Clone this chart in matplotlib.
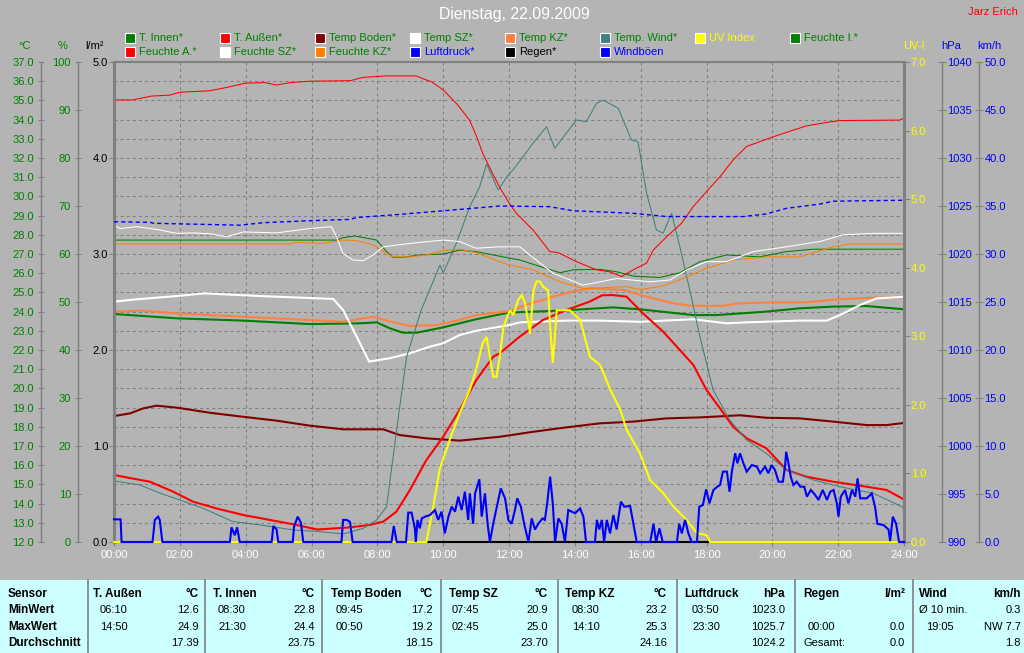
import numpy as np
import matplotlib.pyplot as plt
from matplotlib.patches import Rectangle
from matplotlib.ticker import MultipleLocator, FormatStrFormatter

plt.rcParams['font.family'] = ['Liberation Sans', 'DejaVu Sans']
plt.rcParams['lines.scale_dashes'] = False

# ---- data (hours, value) ----
t_feuchte_a = [0, 0.57, 1.14, 1.7, 2.0, 2.9, 3.42, 4.0, 4.58, 4.94, 5.34, 5.95, 7.17, 7.57, 8.28, 9.19, 9.39, 9.64,
               10.0, 10.45, 10.8, 11.02, 11.2, 11.52, 11.75, 11.97, 12.22, 12.73, 13.24, 13.49, 14.05, 14.66, 15.06,
               15.42, 15.77, 16.18, 16.38, 16.79, 17.24, 17.6, 18.0, 18.41, 18.81, 19.22, 19.62, 20.02, 20.63,
               21.04, 21.65, 22.05, 23.87, 24.0]
feuchte_a = [92.1, 92.1, 92.9, 93.1, 93.7, 94.0, 94.7, 95.6, 95.7, 95.2, 95.7, 96.0, 96.1, 96.8, 97.1, 97.1, 96.5, 95.9,
             94.2, 91.0, 87.9, 84.4, 81.0, 76.5, 73.5, 71.0, 68.5, 65.0, 60.5, 60.3, 58.4, 56.7, 56.3,
             55.3, 56.7, 58.1, 60.8, 63.6, 66.4, 69.9, 73.0, 76.1, 79.6, 82.4, 83.4, 84.4, 85.8,
             86.7, 87.4, 87.8, 87.9, 88.3]

t_aussen = [0, 0.58, 1.09, 1.8, 2.4, 3.11, 3.92, 4.73, 5.54, 6.17, 7.16, 7.77, 8.18, 8.58, 8.99, 9.49, 10.0, 10.5,
            11.01, 11.52, 11.72, 12.02, 12.33, 13.03, 13.74, 14.45, 14.83, 15.16, 15.57, 16.07, 16.68, 17.19, 17.6,
            18.0, 18.41, 18.81, 19.22, 19.82, 20.43, 21.04, 21.85, 22.86, 23.47, 23.93, 24.0]
aussen = [15.49, 15.3, 15.14, 14.62, 14.1, 13.75, 13.41, 13.15, 12.89, 12.65, 12.76, 12.89, 13.06, 13.58, 14.71, 16.27,
          17.48, 18.88, 20.44, 21.65, 21.83, 22.26, 22.7, 23.56, 24.08, 24.52, 24.85, 24.86, 24.78, 23.91, 22.96,
          22.0, 21.22, 19.92, 18.96, 18.0, 17.4, 16.88, 15.75, 15.4, 15.14, 14.88, 14.71, 14.28, 14.2]

t_wind_temp = [0, 0.79, 1.4, 2.0, 2.71, 3.62, 4.43, 5.44, 6.25, 6.96, 7.57, 7.98, 8.28, 8.48, 8.68, 8.89, 9.34, 9.59,
               9.9, 10.0, 10.4, 10.81, 11.11, 11.32, 11.67, 11.97, 12.12, 12.43, 12.73, 13.14, 13.39, 13.74, 14.05,
               14.35, 14.66, 14.86, 15.32, 15.72, 15.92, 16.18, 16.48, 16.68, 16.94, 17.19, 17.49, 17.8, 18.2,
               18.71, 19.22, 19.82, 20.43, 21.24, 22.05, 23.06, 23.93, 24.0]
wind_temp = [15.18, 14.97, 14.54, 14.19, 13.75, 13.06, 12.89, 12.63, 12.54, 12.42, 12.71, 13.15, 13.84, 16.44, 19.05,
             21.65, 24.12, 25.13, 26.43, 26.0, 27.56, 29.47, 30.51, 31.69, 30.33, 31.11, 31.38, 32.07, 32.77, 33.63,
             32.5, 33.29, 33.98, 33.89, 34.85, 35.02, 34.59, 32.94, 32.85, 30.16, 28.25, 28.08, 29.12, 27.38, 25.13,
             22.7, 19.92, 18.35, 17.31, 16.61, 15.75, 15.23, 14.88, 14.54, 13.84, 13.7]

t_druck = [0, 1.1, 1.2, 3.82, 4.53, 5.95, 7.17, 7.37, 8.58, 10.0, 11.72, 13.24, 13.95, 15.77, 16.79, 19.12, 19.82,
           20.43, 21.44, 21.85, 24.0]
druck = [1023.36, 1023.3, 1023.2, 1023.0, 1023.26, 1023.47, 1023.6, 1023.8, 1024.1, 1024.5, 1025.0, 1024.93, 1024.5,
         1024.24, 1023.9, 1023.9, 1024.17, 1024.76, 1025.2, 1025.5, 1025.6]

t_feuchte_sz = [0, 0.18, 0.69, 1.4, 1.9, 2.41, 2.92, 3.42, 3.93, 4.94, 5.95, 6.6, 6.76, 6.96, 7.26, 7.57, 7.87, 8.18,
                8.99, 10.0, 10.5, 11.0, 11.72, 12.33, 12.94, 13.34, 13.74, 14.25, 14.76, 15.27, 16.28, 16.89, 17.4,
                18.0, 18.61, 19.42, 20.43, 21.44, 22.15, 23.06, 24.0]
feuchte_sz = [66.0, 65.3, 65.7, 65.0, 64.3, 64.4, 64.2, 63.6, 64.6, 64.4, 65.3, 65.7, 63.6, 60.1, 58.75, 58.6, 59.8,
              61.5, 62.2, 62.9, 62.6, 61.2, 61.5, 61.5, 58.1, 56.0, 54.9, 53.5, 54.2, 54.9, 54.2, 54.6, 56.7,
              58.4, 58.4, 60.5, 61.5, 62.6, 64.0, 64.3, 64.3]

t_feuchte_i = [0, 6.76, 6.96, 7.32, 7.68, 7.98, 8.28, 8.48, 8.78, 9.29, 10.0, 10.5, 11.0, 11.52, 11.97, 12.33, 12.94,
               13.55, 13.95, 14.76, 15.27, 15.77, 16.58, 17.19, 17.8, 18.61, 19.62, 20.43, 21.24, 24.0]
feuchte_i = [62.9, 62.9, 63.4, 63.75, 63.3, 62.9, 60.5, 59.3, 59.3, 59.8, 60.0, 60.8, 60.5, 59.8, 59.2, 58.75, 57.4,
             56.1, 56.7, 56.8, 56.3, 55.4, 55.1, 56.1, 58.4, 59.8, 59.4, 60.5, 61.0, 61.0]

t_feuchte_kz = [0, 5.34, 5.54, 6.35, 6.96, 7.37, 7.87, 8.28, 8.48, 8.99, 9.49, 10.0, 10.5, 11.0, 11.52, 11.97, 12.73,
                13.55, 14.25, 15.57, 15.98, 16.58, 17.19, 18.0, 18.81, 19.82, 20.83, 21.85, 22.35, 24.0]
feuchte_kz = [62.1, 62.1, 62.4, 62.2, 62.9, 62.8, 61.9, 60.1, 59.4, 59.4, 59.8, 60.7, 61.0, 60.3, 58.9, 57.8, 56.7,
              54.2, 52.8, 53.2, 52.6, 53.2, 54.6, 57.0, 58.75, 59.4, 59.4, 61.5, 62.1, 62.1]

t_sz = [0, 0.69, 1.9, 2.75, 3.11, 4.43, 6.66, 6.96, 7.37, 7.75, 8.38, 8.99, 9.59, 10.0, 10.5, 11.0, 12.02, 12.33,
        13.74, 14.76, 15.97, 17.6, 18.61, 19.22, 20.83, 21.65, 22.05, 22.66, 23.17, 24.0]
temp_sz = [24.52, 24.64, 24.81, 24.95, 24.92, 24.81, 24.66, 24.08, 22.7, 21.4, 21.57, 21.83, 22.17, 22.35, 22.78, 23.0,
           23.3, 23.44, 23.53, 23.53, 23.47, 23.6, 23.39, 23.44, 23.53, 23.53, 23.82, 24.34, 24.69, 24.77]

t_kz = [0, 0.89, 1.9, 3.93, 5.95, 6.96, 7.87, 8.28, 8.99, 9.8, 10.5, 11.0, 12.0, 12.5, 13.0, 13.5, 14.0, 14.5, 15.0,
        15.5, 16.0, 16.5, 17.0, 17.5, 18.0, 18.5, 19.0, 20.0, 21.0, 22.0, 23.0, 24.0]
temp_kz = [24.0, 24.05, 23.91, 23.73, 23.56, 23.47, 23.73, 23.53, 23.25, 23.3, 23.56, 23.82, 24.02, 24.34, 24.6, 24.86,
           25.07, 25.21, 25.16, 25.13, 24.86, 24.64, 24.43, 24.31, 24.3, 24.3, 24.43, 24.48, 24.48, 24.64, 24.72,
           24.75]

t_innen = [0, 0.89, 1.9, 3.93, 5.95, 7.47, 7.98, 8.38, 8.78, 9.19, 10.0, 11.0, 12.0, 13.55, 15.16, 15.97, 17.6, 18.31,
           19.82, 20.83, 21.85, 22.86, 24.0]
innen = [23.875, 23.77, 23.65, 23.53, 23.35, 23.39, 23.44, 23.13, 22.9, 22.9, 23.18, 23.6, 23.95, 24.05, 24.22, 24.12,
         23.82, 23.82, 24.0, 24.17, 24.26, 24.29, 24.12]

t_boden = [0, 0.49, 0.89, 1.29, 1.9, 2.92, 3.93, 4.94, 5.95, 6.96, 8.18, 8.68, 9.49, 10.5, 11.72, 12.73, 13.74, 14.76,
           15.77, 16.79, 17.8, 19.02, 19.82, 20.83, 21.85, 22.86, 23.47, 24.0]
boden = [18.56, 18.7, 18.96, 19.1, 19.0, 18.73, 18.52, 18.32, 18.06, 17.87, 17.87, 17.57, 17.4, 17.28, 17.48, 17.74,
         17.97, 18.18, 18.27, 18.44, 18.49, 18.6, 18.47, 18.44, 18.27, 18.09, 18.09, 18.2]

t_uv = [0, 9.49, 9.7, 9.9, 10.2, 10.5, 10.81, 11.0, 11.2, 11.32, 11.42, 11.52, 11.62, 11.72, 11.83, 12.03, 12.13,
        12.28, 12.39, 12.49, 12.64, 12.74, 12.84, 12.94, 13.04, 13.19, 13.25, 13.33, 13.4, 13.45, 13.85, 14.16,
        14.46, 14.77, 15.08, 15.38, 15.58, 15.98, 16.29, 16.69, 16.99, 17.4, 17.71, 18.01, 18.11, 24.0]
uv = [0, 0, 0.52, 1.07, 1.49, 1.88, 2.22, 2.51, 2.9, 2.99, 2.7, 2.41, 2.41, 2.7, 3.14, 3.38, 3.31,
      3.53, 3.6, 3.48, 3.04, 3.67, 3.8, 3.8, 3.72, 3.67, 3.14, 2.61, 3.04, 3.38, 3.38, 3.24,
      2.7, 2.58, 2.22, 1.93, 1.63, 1.29, 0.9, 0.71, 0.52, 0.32, 0.13, 0.1, 0, 0]

t_boeen = [0.0, 0.2, 0.23, 1.17, 1.24, 1.34, 1.39, 1.47, 3.52, 3.57, 3.67, 3.74, 3.82, 4.79, 4.84, 4.94, 4.99, 5.43,
           5.47, 5.58, 5.68, 5.75, 6.91, 6.96, 7.07, 7.17, 7.25, 8.43, 8.5, 8.59, 8.87, 8.94, 9.04, 9.14, 9.17, 9.22,
           9.29, 9.35, 9.45, 9.6, 9.75, 9.85, 9.95, 10.05, 10.16, 10.26, 10.36, 10.46, 10.56, 10.66, 10.76, 10.81,
           10.91, 10.97, 11.1, 11.17, 11.27, 11.35, 11.42, 11.52, 11.63, 11.75, 11.88, 11.98, 12.08, 12.18, 12.25,
           12.36, 12.46, 12.59, 12.69, 12.79, 12.89, 13.02, 13.09, 13.16, 13.25, 13.33, 13.4, 13.5, 13.6, 13.7,
           13.8, 13.91, 14.01, 14.16, 14.26, 14.34, 14.61, 14.67, 14.74, 14.82, 14.89, 14.97, 15.07, 15.17, 15.27,
           15.4, 15.5, 15.68, 15.78, 15.88, 16.29, 16.39, 16.47, 16.57, 16.67, 17.1, 17.17, 17.25, 17.35, 17.45,
           17.55, 17.71, 17.78, 17.89, 17.99, 18.09, 18.21, 18.33, 18.41, 18.5, 18.62, 18.7, 18.77, 18.87, 18.94,
           19.02, 19.12, 19.22, 19.38, 19.53, 19.63, 19.78, 19.88, 19.98, 20.08, 20.19, 20.32, 20.39, 20.42, 20.49,
           20.56, 20.64, 20.74, 20.85, 20.97, 21.05, 21.17, 21.3, 21.4, 21.53, 21.66, 21.76, 21.86, 21.96, 22.01,
           22.08, 22.21, 22.31, 22.42, 22.52, 22.59, 22.67, 22.87, 23.02, 23.12, 23.19, 23.38, 23.53, 23.58, 23.66,
           23.76, 23.85, 24.0]
boeen = [2.36, 2.36, 0, 0, 2.3, 2.64, 2.3, 0, 0, 1.53, 0.7, 1.53, 0, 0, 1.67, 1.3, 0, 0,
         1.6, 2.64, 2.0, 0, 0, 2.3, 2.3, 2.1, 0, 0, 1.67, 0, 0, 3.06, 3.06, 1.42, 0, 2.3,
         1.42, 2.46, 2.64, 2.81, 3.33, 2.3, 3.16, 0.9, 2.64, 3.68, 3.16, 4.72, 3.33, 5.24, 2.3, 5.07,
         1.9, 5.07, 6.53, 2.64, 5.07, 1.9, 0, 1.9, 3.68, 5.59, 4.55, 2.3, 1.9, 3.33, 4.55,
         3.68, 1.9, 0, 2.46, 1.3, 1.9, 2.46, 2.3, 4.03, 6.8, 4.03, 0, 2.46, 1.9, 0,
         3.33, 3.16, 3.0, 3.5, 2.64, 0, 0, 2.3, 1.3, 2.3, 0, 2.3, 0.9, 2.81, 1.3,
         4.2, 3.68, 3.75, 1.9, 0, 0, 1.9, 0, 1.42, 0, 0, 1.9, 0.9, 2.3, 0.9,
         0, 0, 3.68, 3.85, 5.49, 4.03, 5.42, 5.76, 5.94, 7.33, 7.33, 5.24, 7.33, 9.24, 8.2,
         9.24, 8.2, 7.33, 8.02, 7.85, 7.16, 7.85, 7.16, 8.02, 7.5, 6.28, 6.28, 8.02, 9.4, 8.2,
         6.8, 5.94, 6.28, 5.76, 5.76, 4.72, 5.42, 4.9, 4.38, 5.42, 4.38, 5.24, 5.42, 4.03, 2.64,
         4.72, 5.42, 4.03, 5.42, 4.72, 6.63, 4.55, 4.55, 5.07, 3.68, 1.9, 1.76, 1.3, 0.1, 2.64,
         1.9, 0, 0]

t_regen = [0, 24]
regen = [0, 0]

x_labels = ['00:00', '02:00', '04:00', '06:00', '08:00', '10:00', '12:00', '14:00', '16:00', '18:00', '20:00',
            '22:00', '24:00']

legend_row1 = ['T. Innen*', 'T. Außen*', 'Temp Boden*', 'Temp SZ*', 'Temp KZ*', 'Temp. Wind*', 'UV Index', 'Feuchte I.*']
legend_row2 = ['Feuchte A.*', 'Feuchte SZ*', 'Feuchte KZ*', 'Luftdruck*', 'Regen*', 'Windböen']

sensors = ['T. Außen', 'T. Innen', 'Temp Boden', 'Temp SZ', 'Temp KZ', 'Luftdruck', 'Regen', 'Wind']
units = ['°C', '°C', '°C', '°C', '°C', 'hPa', 'l/m²', 'km/h']
min_time = ['06:10', '08:30', '09:45', '07:45', '08:30', '03:50', '', 'Ø 10 min.']
min_val = ['12.6', '22.8', '17.2', '20.9', '23.2', '1023.0', '', '0.3']
max_time = ['14:50', '21:30', '00:50', '02:45', '14:10', '23:30', '00:00', '19:05']
max_val = ['24.9', '24.4', '19.2', '25.0', '25.3', '1025.7', '0.0', 'NW 7.7']
avg_time = ['', '', '', '', '', '', 'Gesamt:', '']
avg_val = ['17.39', '23.75', '18.15', '23.70', '24.16', '1024.2', '0.0', '1.8']

# ---- styling ----
BG = '#b4b4b4'
GRID = '#808080'
GREEN = '#008000'
BLUE = '#0000ff'
YELLOW = '#ffff00'
RED = '#ff0000'
DARKRED = '#800000'
CORAL = '#ff8040'
ORANGE = '#ff8000'
TEAL = '#408080'
THICK = 1.5
THIN = 0.75

W, H = 1024, 653
L, R, T, B = 114, 904, 62, 542
PW = R - L

fig = plt.figure(figsize=(W / 100, H / 100), dpi=100)
fig.patch.set_facecolor(BG)
rect = [L / W, 1 - B / H, PW / W, (B - T) / H]


def setup(a, lim, step, side, xpx, color, fmt, length, direction, pad, lw=1.0):
    for s in a.spines.values():
        s.set_visible(False)
    sp = a.spines[side]
    sp.set_visible(True)
    sp.set_position(('axes', (xpx - L) / PW))
    sp.set_color(GRID)
    sp.set_linewidth(lw)
    a.yaxis.set_ticks_position(side)
    a.set_ylim(*lim)
    a.yaxis.set_major_locator(MultipleLocator(step))
    a.yaxis.set_major_formatter(FormatStrFormatter(fmt))
    a.tick_params(axis='y', direction=direction, length=length, width=0.75, color=GRID,
                  labelcolor=color, labelsize=8, pad=pad)


def twin():
    a = fig.add_axes(rect, sharex=ax, facecolor='none')
    a.tick_params(axis='x', bottom=False, labelbottom=False)
    return a


ax = fig.add_axes(rect, facecolor=BG)
ax.set_xlim(0, 24)
setup(ax, (12, 37), 1, 'left', 41, GREEN, '%.1f', 5, 'inout', 2.5)
ax.spines['top'].set_visible(True)
ax.spines['top'].set_color(GRID)
ax.spines['top'].set_linewidth(1.5)
ax.set_xticks(np.arange(0, 25, 2))
ax.set_xticklabels(x_labels)
ax.tick_params(axis='x', direction='out', length=3, color=GRID, labelcolor='white', labelsize=8, pad=3)
ax.grid(True, color=GRID, linewidth=0.75, linestyle=(0, (2.2, 2.2)))
ax.set_axisbelow(True)

ax_h = twin()
setup(ax_h, (0, 100), 10, 'left', 77.7, GREEN, '%d', 5, 'inout', 2.3)
ax_r = twin()
setup(ax_r, (0, 5), 1, 'left', 114, 'black', '%.1f', 3.5, 'out', 0.8, lw=2.2)
ax_uv = twin()
setup(ax_uv, (0, 7), 1, 'right', 904, YELLOW, '%.1f', 4, 'out', 0.8, lw=2.2)
ax_p = twin()
setup(ax_p, (990, 1040), 5, 'right', 941.7, BLUE, '%d', 6, 'inout', 1.0)
ax_w = twin()
setup(ax_w, (0, 50), 5, 'right', 978.7, BLUE, '%.1f', 6, 'inout', 1.0)

kw = dict(clip_on=False, solid_joinstyle='miter')
ax.plot(t_boden, boden, color=DARKRED, lw=THICK, **kw)
ax.plot(t_innen, innen, color=GREEN, lw=THICK, **kw)
ax.plot(t_kz, temp_kz, color=CORAL, lw=THICK, **kw)
ax.plot(t_sz, temp_sz, color='white', lw=THICK, **kw)
ax.plot(t_aussen, aussen, color=RED, lw=THICK, **kw)
ax.plot(t_wind_temp, wind_temp, color=TEAL, lw=THIN, **kw)

ax_h.plot(t_feuchte_i, feuchte_i, color=GREEN, lw=THIN, **kw)
ax_h.plot(t_feuchte_kz, feuchte_kz, color=ORANGE, lw=THIN, **kw)
ax_h.plot(t_feuchte_sz, feuchte_sz, color='white', lw=THIN, **kw)
ax_h.plot(t_feuchte_a, feuchte_a, color=RED, lw=THIN, **kw)

ax_r.plot(t_regen, regen, color='black', lw=THICK, **kw)
ax_uv.plot(t_uv, uv, color=YELLOW, lw=THICK, **kw)
ax_p.plot(t_druck, druck, color=BLUE, lw=1.0, linestyle=(0, (3, 2.2)), clip_on=False)
ax_w.plot(t_boeen, boeen, color=BLUE, lw=THICK, **kw)


def ftext(x, y, s, **k):
    fig.text(x / W, 1 - y / H, s, **k)


# axis headers, title
for x, s, c in [(25, '°C', GREEN), (63, '%', GREEN), (95, 'l/m²', 'black'),
                (914, 'UV-I', YELLOW), (951, 'hPa', BLUE), (989, 'km/h', BLUE)]:
    ftext(x, 46, s, color=c, fontsize=8, ha='center', va='center')
ftext(514, 15, 'Dienstag, 22.09.2009', color='white', fontsize=11.4, ha='center', va='center')
ftext(968, 12, 'Jarz Erich', color=RED, fontsize=8, ha='left', va='center')

# legend
row1_colors = [GREEN, RED, DARKRED, 'white', CORAL, TEAL, YELLOW, GREEN]
row1_text = [GREEN] * 6 + [YELLOW, GREEN]
row2_colors = [RED, 'white', ORANGE, BLUE, 'black', BLUE]
row2_text = [GREEN, GREEN, GREEN, BLUE, 'black', BLUE]
for row, (names, cols, tcols, yc) in enumerate([(legend_row1, row1_colors, row1_text, 38),
                                                  (legend_row2, row2_colors, row2_text, 52)]):
    for i, name in enumerate(names):
        x0 = 124.5 + i * 95
        fig.add_artist(Rectangle((x0 / W, 1 - (yc + 5) / H), 10 / W, 10 / H, transform=fig.transFigure,
                                 facecolor=cols[i], edgecolor='white', lw=0.8))
        ftext(x0 + 14.5, yc, name, color=tcols[i], fontsize=8, ha='left', va='center')

# statistics table
fig.add_artist(Rectangle((0, 0), 1, (H - 580) / H, transform=fig.transFigure, facecolor='#ccffff', edgecolor='none'))
col_left = [88, 205, 322, 441, 558, 677, 795, 913]
head_x = [93, 213, 331, 449, 565, 684, 803, 919]
time_x = [100, 218, 336, 452, 572, 692, 808, 926]
right_x = [199, 315, 433, 548, 667, 785, 905, 1021]
rows_y = [594, 610, 626.5, 643]
for xl in col_left:
    fig.add_artist(plt.Line2D([xl / W, xl / W], [0, (H - 580) / H], transform=fig.transFigure, color=GRID, lw=1.2))
for y, s in zip(rows_y, ['Sensor', 'MinWert', 'MaxWert', 'Durchschnitt']):
    ftext(8, y, s, fontsize=8.5, fontweight='bold', ha='left', va='center')
for i in range(len(sensors)):
    ftext(head_x[i], rows_y[0], sensors[i], fontsize=8.5, fontweight='bold', ha='left', va='center')
    ftext(right_x[i], rows_y[0], units[i], fontsize=8.5, fontweight='bold', ha='right', va='center')
    for y, tt, vv in [(rows_y[1], min_time[i], min_val[i]), (rows_y[2], max_time[i], max_val[i]),
                      (rows_y[3], avg_time[i], avg_val[i])]:
        tx = time_x[i] if ':' in tt and not tt.endswith(':') else head_x[i]
        ftext(tx, y, tt, fontsize=8, ha='left', va='center')
        ftext(right_x[i], y, vv, fontsize=8, ha='right', va='center')

fig.savefig('out.png', dpi=100, facecolor=BG)
